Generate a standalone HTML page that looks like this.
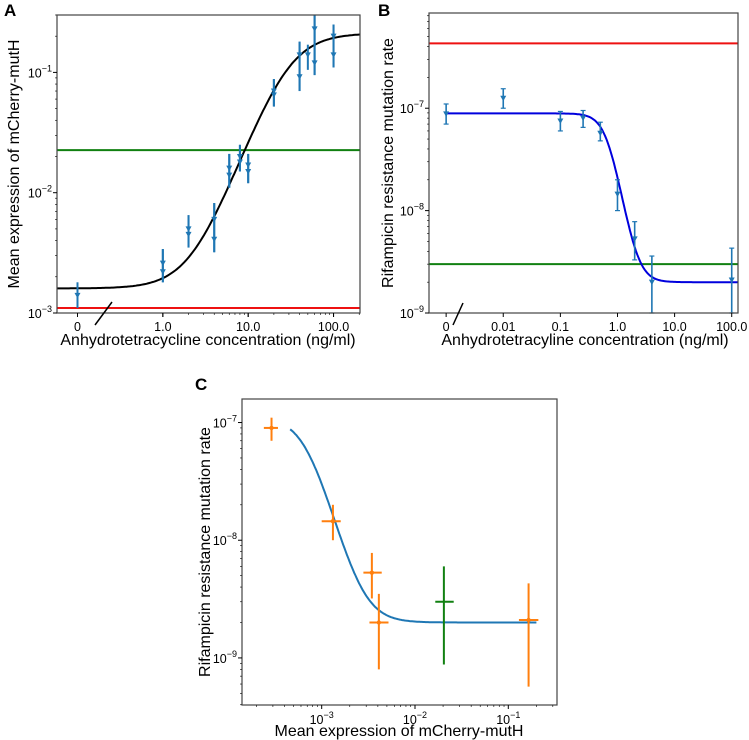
<!DOCTYPE html>
<html><head><meta charset="utf-8"><style>
html,body{margin:0;padding:0;background:#fff}
svg{display:block;font-family:"Liberation Sans","DejaVu Sans",sans-serif}
</style></head><body>
<svg id="fig" width="749" height="740" viewBox="0 0 749 740"></svg>
<script>
// ---- Panel A data ----
const aConc = [0, 1, 1, 2, 2, 4, 4, 6, 6, 8, 8, 10, 10, 20, 20, 40, 40, 50, 60, 60, 100, 100];
const aExpr = [0.0014, 0.0026, 0.0022, 0.005, 0.0045, 0.006, 0.0041, 0.016, 0.014, 0.02, 0.018, 0.017, 0.015, 0.07, 0.065, 0.14, 0.092, 0.14, 0.23, 0.12, 0.2, 0.14];
const aLo = [0.0011, 0.0018, 0.0018, 0.0035, 0.0035, 0.0032, 0.0032, 0.011, 0.011, 0.015, 0.015, 0.012, 0.012, 0.052, 0.052, 0.07, 0.07, 0.105, 0.095, 0.095, 0.11, 0.11];
const aHi = [0.0018, 0.0034, 0.0034, 0.0065, 0.0065, 0.0082, 0.0082, 0.021, 0.021, 0.025, 0.025, 0.021, 0.021, 0.088, 0.088, 0.18, 0.18, 0.17, 0.3, 0.3, 0.25, 0.25];
const aFit = [0.0016, 0.21, 29, 1.9]; // base, top, K, n
const aGreen = 0.0226, aRed = 0.0011;
const aXTicks = ["0", "1.0", "10.0", "100.0"];
const aYTicks = [-3, -2, -1];
// ---- Panel B data ----
const bConc = [0, 0.01, 0.1, 0.25, 0.5, 1, 2, 4, 100];
const bRate = [8.8e-8, 1.25e-7, 7.5e-8, 8e-8, 5.7e-8, 1.45e-8, 5.3e-9, 2e-9, 2.1e-9];
const bLo = [7e-8, 1e-7, 6e-8, 6.5e-8, 4.8e-8, 1e-8, 3.3e-9, 1e-9, 1e-9];
const bHi = [1.1e-7, 1.55e-7, 9.3e-8, 9.5e-8, 7.3e-8, 2e-8, 7.8e-9, 3.6e-9, 4.3e-9];
const bFit = [2e-9, 8.7e-8, 0.68, 3.3];
const bGreen = 3e-9, bRed = 4.3e-7;
const bXTicks = ["0", "0.01", "0.1", "1.0", "10.0", "100.0"];
const bYTicks = [-9, -8, -7];
// ---- Panel C data ----
const cExpr = [2.9e-4, 1.32e-3, 3.45e-3, 4.1e-3, 0.165];
const cExprLo = [2.4e-4, 1.0e-3, 2.8e-3, 3.25e-3, 0.13];
const cExprHi = [3.4e-4, 1.6e-3, 4.4e-3, 5.2e-3, 0.21];
const cRate = [9e-8, 1.45e-8, 5.3e-9, 2e-9, 2.1e-9];
const cRateLo = [7e-8, 1e-8, 3.2e-9, 8e-10, 5.7e-10];
const cRateHi = [1.1e-7, 2e-8, 7.8e-9, 3.5e-9, 4.3e-9];
const cGreenPt = [0.0204, 0.0165, 0.026, 3e-9, 8.8e-10, 6e-9];
const cFit = [2e-9, 1.1e-7, 7e-4, 3];
const cFitRange = [4.6e-4, 0.2];
const cXTicks = [-3, -2, -1];
const cYTicks = [-9, -8, -7];

const NS = "http://www.w3.org/2000/svg";
const svg = document.getElementById('fig');
function mk(tag, attrs, parent) {
  const e = document.createElementNS(NS, tag);
  for (const k in attrs) e.setAttribute(k, attrs[k]);
  (parent || svg).appendChild(e);
  return e;
}
function lin(d0, d1, r0, r1) { return v => r0 + (v - d0) / (d1 - d0) * (r1 - r0); }
const L = Math.log10;
const BLUE = "#1f77b4";

function sciLabel(g, x, y, exp, anchor) {
  const t = mk('text', {x: x, y: y, 'font-size': 12.5, 'text-anchor': anchor, fill: '#000'}, g);
  
  
  const a = mk('tspan', {}, t); a.textContent = '10';
  const b = mk('tspan', {dy: -6, 'font-size': 9}, t); b.textContent = '\u2212' + Math.abs(exp);
  return t;
}
function box(g, x0, y0, x1, y1) {
  const r = mk('rect', {x: x0, y: y0, width: x1 - x0, height: y1 - y0, fill: 'none', stroke: '#444', 'stroke-width': 1.2}, g);
  
  
}
function yLogTicks(g, sy, x0, lo, hi) {
  for (let d = Math.floor(lo); d <= Math.ceil(hi); d++) {
    for (let m = 1; m < 10; m++) {
      const v = d + L(m);
      if (v < lo - 1e-9 || v > hi + 1e-9) continue;
      const len = m === 1 ? 4 : 2;
      const t = mk('line', {x1: x0 - len, x2: x0, y1: sy(v), y2: sy(v), stroke: '#000', 'stroke-width': m === 1 ? 1 : 0.6}, g);
      
      
    }
  }
}
function xLogTicks(g, sx, y0, lo, hi, minor) {
  for (let d = Math.floor(lo); d <= Math.ceil(hi); d++) {
    for (let m = 1; m < 10; m++) {
      if (m > 1 && !minor) continue;
      const v = d + L(m);
      if (v < lo - 1e-9 || v > hi + 1e-9) continue;
      const len = m === 1 ? 4 : 2;
      const t = mk('line', {x1: sx(v), x2: sx(v), y1: y0, y2: y0 + len, stroke: '#000', 'stroke-width': m === 1 ? 1 : 0.6}, g);
      
      
    }
  }
}
function hline(g, sx0, sx1, y, color, name) {
  const l = mk('line', {x1: sx0, x2: sx1, y1: y, y2: y, stroke: color, 'stroke-width': 2}, g);
  
  
}
function text(g, x, y, s, size, attrs, name) {
  const t = mk('text', Object.assign({x: x, y: y, 'font-size': size, fill: '#000'}, attrs || {}), g);
  t.textContent = s;
  
  
  return t;
}
function tri(g, x, y, color) {
  const p = mk('path', {d: `M${x-3},${y-2.5} L${x+3},${y-2.5} L${x},${y+3} Z`, fill: color}, g);
  
  
}
function vbar(g, x, y1, y2, color, w) {
  const l = mk('line', {x1: x, x2: x, y1: y1, y2: y2, stroke: color, 'stroke-width': w}, g);
  
  
}
function hill(p, x, rising) {
  const r = Math.pow(x / p[2], p[3]);
  return rising ? p[0] + p[1] * r / (1 + r) : p[0] + p[1] / (1 + r);
}

// ===== Panel A =====
(function () {
  const g = mk('g', {});  
  const X0 = 57, X1 = 360, Y0 = 15, Y1 = 313;
  const xlo = -1.24, xhi = 2.31, ylo = -3, yhi = L(0.30);
  const sx = lin(xlo, xhi, X0, X1), sy = lin(ylo, yhi, Y1, Y0);
  const px = c => c === 0 ? -1 : L(c);
  text(g, 4, 16, 'A', 17, {'font-weight': 'bold'}, 'panel-label-a');
  let d = '';
  for (let i = 0; i <= 200; i++) {
    const lx = xlo + (xhi - xlo) * i / 200;
    const y = hill(aFit, Math.pow(10, lx), true);
    d += (i ? 'L' : 'M') + sx(lx).toFixed(1) + ',' + sy(L(y)).toFixed(1);
  }
  hline(g, X0, X1, sy(L(aGreen)), '#118011', 'green-reference-line');
  hline(g, X0, X1, sy(L(aRed)), '#ee1111', 'red-reference-line');
  const c = mk('path', {d: d, fill: 'none', stroke: '#000', 'stroke-width': 2}, g);
  
  
  aConc.forEach((v, i) => {
    const x = sx(px(v));
    vbar(g, x, sy(L(aLo[i])), sy(L(aHi[i])), BLUE, 2);
    tri(g, x, sy(L(aExpr[i])), BLUE);
  });
  box(g, X0, Y0, X1, Y1);
  yLogTicks(g, sy, X0, ylo, yhi);
  xLogTicks(g, sx, Y1, -1, xhi, false);
  xLogTicks(g, sx, Y1, 0, xhi, true);
  aYTicks.forEach(e => sciLabel(g, X0 - 5, sy(e) + 5, e, 'end'));
  aXTicks.forEach((s, i) => text(g, sx(i - 1), Y1 + 18, s, 12.5, {'text-anchor': 'middle'}, 'x-tick-label'));
  const br = mk('line', {x1: 95, y1: 325, x2: 112, y2: 302, stroke: '#000', 'stroke-width': 1.5}, g);
  
  
  text(g, 208, 345, 'Anhydrotetracycline concentration (ng/ml)', 16, {'text-anchor': 'middle'}, 'x-axis-title');
  text(g, 0, 0, 'Mean expression of mCherry-mutH', 16, {'text-anchor': 'middle', transform: 'translate(19,164) rotate(-90)'}, 'y-axis-title');
})();

// ===== Panel B =====
(function () {
  const g = mk('g', {});  
  const X0 = 429, X1 = 738, Y0 = 13, Y1 = 313;
  const xlo = -3.30, xhi = 2.11, ylo = -9, yhi = -6.07;
  const sx = lin(xlo, xhi, X0, X1), sy = lin(ylo, yhi, Y1, Y0);
  const px = c => c === 0 ? -3 : L(c);
  text(g, 378, 16, 'B', 17, {'font-weight': 'bold'}, 'panel-label-b');
  hline(g, X0, X1, sy(L(bRed)), '#ee1111', 'red-reference-line');
  hline(g, X0, X1, sy(L(bGreen)), '#118011', 'green-reference-line');
  let d = '';
  for (let i = 0; i <= 200; i++) {
    const lx = -3 + (xhi - -3) * i / 200;
    const y = hill(bFit, Math.pow(10, lx), false);
    d += (i ? 'L' : 'M') + sx(lx).toFixed(1) + ',' + sy(L(y)).toFixed(1);
  }
  const c = mk('path', {d: d, fill: 'none', stroke: '#0000dd', 'stroke-width': 2}, g);
  
  
  bConc.forEach((v, i) => {
    const x = sx(px(v));
    vbar(g, x, sy(L(bLo[i])), sy(L(bHi[i])), BLUE, 1.6);
    const cap1 = mk('line', {x1: x - 2.5, x2: x + 2.5, y1: sy(L(bLo[i])), y2: sy(L(bLo[i])), stroke: BLUE, 'stroke-width': 1.2}, g);
    
    
    const cap2 = mk('line', {x1: x - 2.5, x2: x + 2.5, y1: sy(L(bHi[i])), y2: sy(L(bHi[i])), stroke: BLUE, 'stroke-width': 1.2}, g);
    
    
    tri(g, x, sy(L(bRate[i])), BLUE);
  });
  box(g, X0, Y0, X1, Y1);
  yLogTicks(g, sy, X0, ylo, yhi);
  xLogTicks(g, sx, Y1, -3, xhi, false);
  bYTicks.forEach(e => sciLabel(g, X0 - 5, sy(e) + 5, e, 'end'));
  bXTicks.forEach((s, i) => text(g, sx(i - 3), Y1 + 18, s, 12.5, {'text-anchor': 'middle'}, 'x-tick-label'));
  const br = mk('line', {x1: 453, y1: 325, x2: 463, y2: 303, stroke: '#000', 'stroke-width': 1.5}, g);
  
  
  text(g, 585, 345, 'Anhydrotetracyline concentration (ng/ml)', 16, {'text-anchor': 'middle'}, 'x-axis-title');
  text(g, 0, 0, 'Rifampicin resistance mutation rate', 16, {'text-anchor': 'middle', transform: 'translate(393,163) rotate(-90)'}, 'y-axis-title');
})();

// ===== Panel C =====
(function () {
  const g = mk('g', {});  
  const X0 = 242, X1 = 557, Y0 = 399, Y1 = 705;
  const xlo = -3.854, xhi = -0.478, ylo = -9.40, yhi = -6.80;
  const sx = lin(xlo, xhi, X0, X1), sy = lin(ylo, yhi, Y1, Y0);
  text(g, 195, 390, 'C', 17, {'font-weight': 'bold'}, 'panel-label-c');
  let d = '';
  const a = L(cFitRange[0]), b = L(cFitRange[1]);
  for (let i = 0; i <= 200; i++) {
    const lx = a + (b - a) * i / 200;
    const y = hill(cFit, Math.pow(10, lx), false);
    d += (i ? 'L' : 'M') + sx(lx).toFixed(1) + ',' + sy(L(y)).toFixed(1);
  }
  const c = mk('path', {d: d, fill: 'none', stroke: BLUE, 'stroke-width': 2}, g);
  
  
  const OR = '#ff7f0e';
  cExpr.forEach((v, i) => {
    const x = sx(L(v)), y = sy(L(cRate[i]));
    vbar(g, x, sy(L(cRateLo[i])), sy(L(cRateHi[i])), OR, 2);
    const h = mk('line', {x1: sx(L(cExprLo[i])), x2: sx(L(cExprHi[i])), y1: y, y2: y, stroke: OR, 'stroke-width': 2}, g);
    
    
    const dot = mk('circle', {cx: x, cy: y, r: 2.2, fill: OR}, g);
    
    
  });
  const GR = '#118011';
  const gx = sx(L(cGreenPt[0])), gy = sy(L(cGreenPt[3]));
  vbar(g, gx, sy(L(cGreenPt[4])), sy(L(cGreenPt[5])), GR, 2);
  const gh = mk('line', {x1: sx(L(cGreenPt[1])), x2: sx(L(cGreenPt[2])), y1: gy, y2: gy, stroke: GR, 'stroke-width': 2}, g);
  
  
  box(g, X0, Y0, X1, Y1);
  yLogTicks(g, sy, X0, ylo, yhi);
  xLogTicks(g, sx, Y1, xlo, xhi, true);
  cYTicks.forEach(e => sciLabel(g, X0 - 5, sy(e) + 5, e, 'end'));
  cXTicks.forEach(e => sciLabel(g, sx(e), Y1 + 19, e, 'middle'));
  text(g, 399, 736, 'Mean expression of mCherry-mutH', 16, {'text-anchor': 'middle'}, 'x-axis-title');
  text(g, 0, 0, 'Rifampicin resistance mutation rate', 16, {'text-anchor': 'middle', transform: 'translate(210,552) rotate(-90)'}, 'y-axis-title');
})();
</script>
</body></html>
